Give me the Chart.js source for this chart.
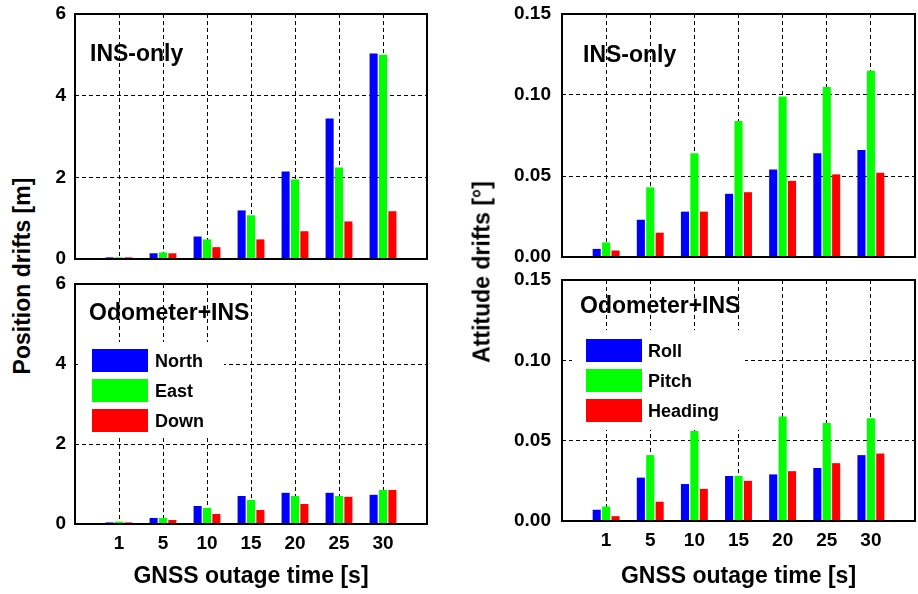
<!DOCTYPE html>
<html>
<head>
<meta charset="utf-8">
<script src="https://cdn.jsdelivr.net/npm/chart.js@4/dist/chart.umd.min.js"></script>
<style>
html,body{margin:0;padding:0;background:#fff;}
#wrap{position:relative;width:918px;height:594px;overflow:hidden;background:#fff;font-family:"Liberation Sans",Arial,sans-serif;}
canvas{position:absolute;}
.ytitle{position:absolute;font-weight:bold;font-size:23px;line-height:27px;white-space:nowrap;color:#000;transform:translate(-50%,-50%) rotate(-90deg);}
</style>
</head>
<body>
<div id="wrap">
  <canvas id="tl" width="400" height="272" style="left:40px;top:0px;width:400px;height:272px"></canvas>
  <canvas id="bl" width="400" height="324" style="left:40px;top:270px;width:400px;height:324px"></canvas>
  <canvas id="tr" width="438" height="272" style="left:480px;top:0px;width:438px;height:272px"></canvas>
  <canvas id="br" width="438" height="328" style="left:480px;top:266px;width:438px;height:328px"></canvas>
  <div class="ytitle" style="left:22px;top:276px">Position drifts [m]</div>
  <div class="ytitle" style="left:482px;top:272px">Attitude drifts [°]</div>
</div>
<script>
// ---- data ----
const categories = ['1', '5', '10', '15', '20', '25', '30'];
const posSeries = ['North', 'East', 'Down'];
const attSeries = ['Roll', 'Pitch', 'Heading'];
const seriesColors = ['#0000ff', '#00ff00', '#ff0000'];

const posInsNorth = [0.04, 0.14, 0.55, 1.19, 2.14, 3.44, 5.03];
const posInsEast  = [0.04, 0.16, 0.48, 1.07, 1.95, 2.24, 5.00];
const posInsDown  = [0.04, 0.14, 0.29, 0.48, 0.68, 0.92, 1.17];

const posOdoNorth = [0.04, 0.15, 0.45, 0.70, 0.78, 0.78, 0.73];
const posOdoEast  = [0.06, 0.15, 0.40, 0.60, 0.70, 0.70, 0.85];
const posOdoDown  = [0.04, 0.10, 0.25, 0.35, 0.50, 0.68, 0.85];

const attInsRoll    = [0.005, 0.023, 0.028, 0.039, 0.054, 0.064, 0.066];
const attInsPitch   = [0.009, 0.043, 0.064, 0.084, 0.099, 0.105, 0.115];
const attInsHeading = [0.004, 0.015, 0.028, 0.040, 0.047, 0.051, 0.052];

const attOdoRoll    = [0.007, 0.027, 0.023, 0.028, 0.029, 0.033, 0.041];
const attOdoPitch   = [0.009, 0.041, 0.056, 0.028, 0.065, 0.061, 0.064];
const attOdoHeading = [0.003, 0.012, 0.020, 0.025, 0.031, 0.036, 0.042];

const posTicks = [0, 2, 4, 6];
const posTickLabels = ['0', '2', '4', '6'];
const attTicks = [0, 0.05, 0.10, 0.15];
const attTickLabels = ['0.00', '0.05', '0.10', '0.15'];

const xTitle = 'GNSS outage time [s]';
const FONT = '"Liberation Sans", Arial, sans-serif';

// ---- plugin: panel title, legend, frame ----
const panelPlugin = {
  id: 'panel',
  afterDatasetsDraw(chart, args, o) {
    const ctx = chart.ctx, a = chart.chartArea;
    ctx.save();
    if (o.legend) {
      const L = o.legend;
      ctx.fillStyle = '#fff';
      ctx.fillRect(a.left + L.boxX, a.top + L.boxY, L.boxW, L.boxH);
      ctx.font = 'bold 18px ' + FONT;
      ctx.textBaseline = 'middle';
      ctx.textAlign = 'left';
      chart.data.datasets.forEach((ds, i) => {
        const y = a.top + L.sy + i * L.step;
        ctx.fillStyle = ds.backgroundColor;
        ctx.fillRect(a.left + L.sx, y, L.sw, L.sh);
        ctx.fillStyle = '#000';
        ctx.fillText(ds.label, a.left + L.tx, y + L.sh / 2 + 2);
      });
    }
    ctx.font = 'bold 23px ' + FONT;
    ctx.fillStyle = '#000';
    ctx.textBaseline = 'alphabetic';
    ctx.textAlign = 'left';
    ctx.fillText(o.title, a.left + o.tx, a.top + o.ty);
    ctx.strokeStyle = '#000';
    ctx.lineWidth = 2;
    ctx.strokeRect(a.left, a.top, a.right - a.left, a.bottom - a.top);
    ctx.restore();
  }
};

function zeroPad(s) {
  s.paddingTop = 0; s.paddingBottom = 0; s.paddingLeft = 0; s.paddingRight = 0;
}

function makeChart(id, cfg) {
  const labels = [''].concat(categories, ['']);
  const datasets = cfg.series.map((name, i) => ({
    label: name,
    data: [null].concat(cfg.data[i], [null]),
    backgroundColor: seriesColors[i],
    borderWidth: 0,
    categoryPercentage: 0.64,
    barPercentage: 0.86
  }));
  return new Chart(document.getElementById(id), {
    type: 'bar',
    data: { labels, datasets },
    plugins: [panelPlugin],
    options: {
      responsive: false,
      animation: false,
      events: [],
      layout: { padding: { top: cfg.padTop, right: cfg.padRight, left: 0, bottom: 0 } },
      plugins: {
        legend: { display: false },
        tooltip: { enabled: false },
        panel: { title: cfg.title, tx: cfg.tx, ty: cfg.ty, legend: cfg.legend }
      },
      scales: {
        x: {
          type: 'category',
          offset: false,
          grid: { display: true, offset: false, color: '#000', lineWidth: 1, drawTicks: false },
          border: { display: false, dash: [4, 3] },
          ticks: {
            display: cfg.showX,
            autoSkip: false,
            maxRotation: 0,
            padding: 8,
            color: '#000',
            font: { family: FONT, size: 19, weight: 'bold' }
          },
          title: {
            display: cfg.showX,
            text: xTitle,
            color: '#000',
            font: { family: FONT, size: 23, weight: 'bold' },
            padding: { top: 0, bottom: 4 }
          },
          afterFit: s => { s.height = cfg.xHeight; zeroPad(s); }
        },
        y: {
          min: cfg.yTicks[0],
          max: cfg.yTicks[cfg.yTicks.length - 1],
          grid: { display: true, color: '#000', lineWidth: 1, drawTicks: false },
          border: { display: false, dash: [4, 3] },
          afterBuildTicks: s => { s.ticks = cfg.yTicks.map(v => ({ value: v })); },
          ticks: {
            padding: cfg.yPad,
            color: '#000',
            font: { family: FONT, size: 19, weight: 'bold' },
            callback: (v, i) => cfg.yLabels[i]
          },
          afterFit: s => { s.width = cfg.yWidth; zeroPad(s); }
        }
      }
    }
  });
}

makeChart('tl', {
  series: posSeries, data: [posInsNorth, posInsEast, posInsDown],
  yTicks: posTicks, yLabels: posTickLabels,
  padTop: 14, padRight: 13, yWidth: 35, xHeight: 13, yPad: 9, showX: false,
  title: 'INS-only', tx: 15, ty: 47, legend: null
});
makeChart('bl', {
  series: posSeries, data: [posOdoNorth, posOdoEast, posOdoDown],
  yTicks: posTicks, yLabels: posTickLabels,
  padTop: 14, padRight: 13, yWidth: 35, xHeight: 70, yPad: 9, showX: true,
  title: 'Odometer+INS', tx: 14, ty: 36,
  legend: { boxX: 3, boxY: 58, boxW: 146, boxH: 95, sx: 17, sy: 65, sw: 56, sh: 23, step: 30, tx: 80 }
});
makeChart('tr', {
  series: attSeries, data: [attInsRoll, attInsPitch, attInsHeading],
  yTicks: attTicks, yLabels: attTickLabels,
  padTop: 14, padRight: 3, yWidth: 82, xHeight: 15, yPad: 11, showX: false,
  title: 'INS-only', tx: 21, ty: 48, legend: null
});
makeChart('br', {
  series: attSeries, data: [attOdoRoll, attOdoPitch, attOdoHeading],
  yTicks: attTicks, yLabels: attTickLabels,
  padTop: 14, padRight: 3, yWidth: 82, xHeight: 73, yPad: 11, showX: true,
  title: 'Odometer+INS', tx: 18, ty: 33,
  legend: { boxX: 10, boxY: 50, boxW: 173, boxH: 100, sx: 24, sy: 59, sw: 56, sh: 23, step: 30, tx: 86 }
});
</script>
</body>
</html>
